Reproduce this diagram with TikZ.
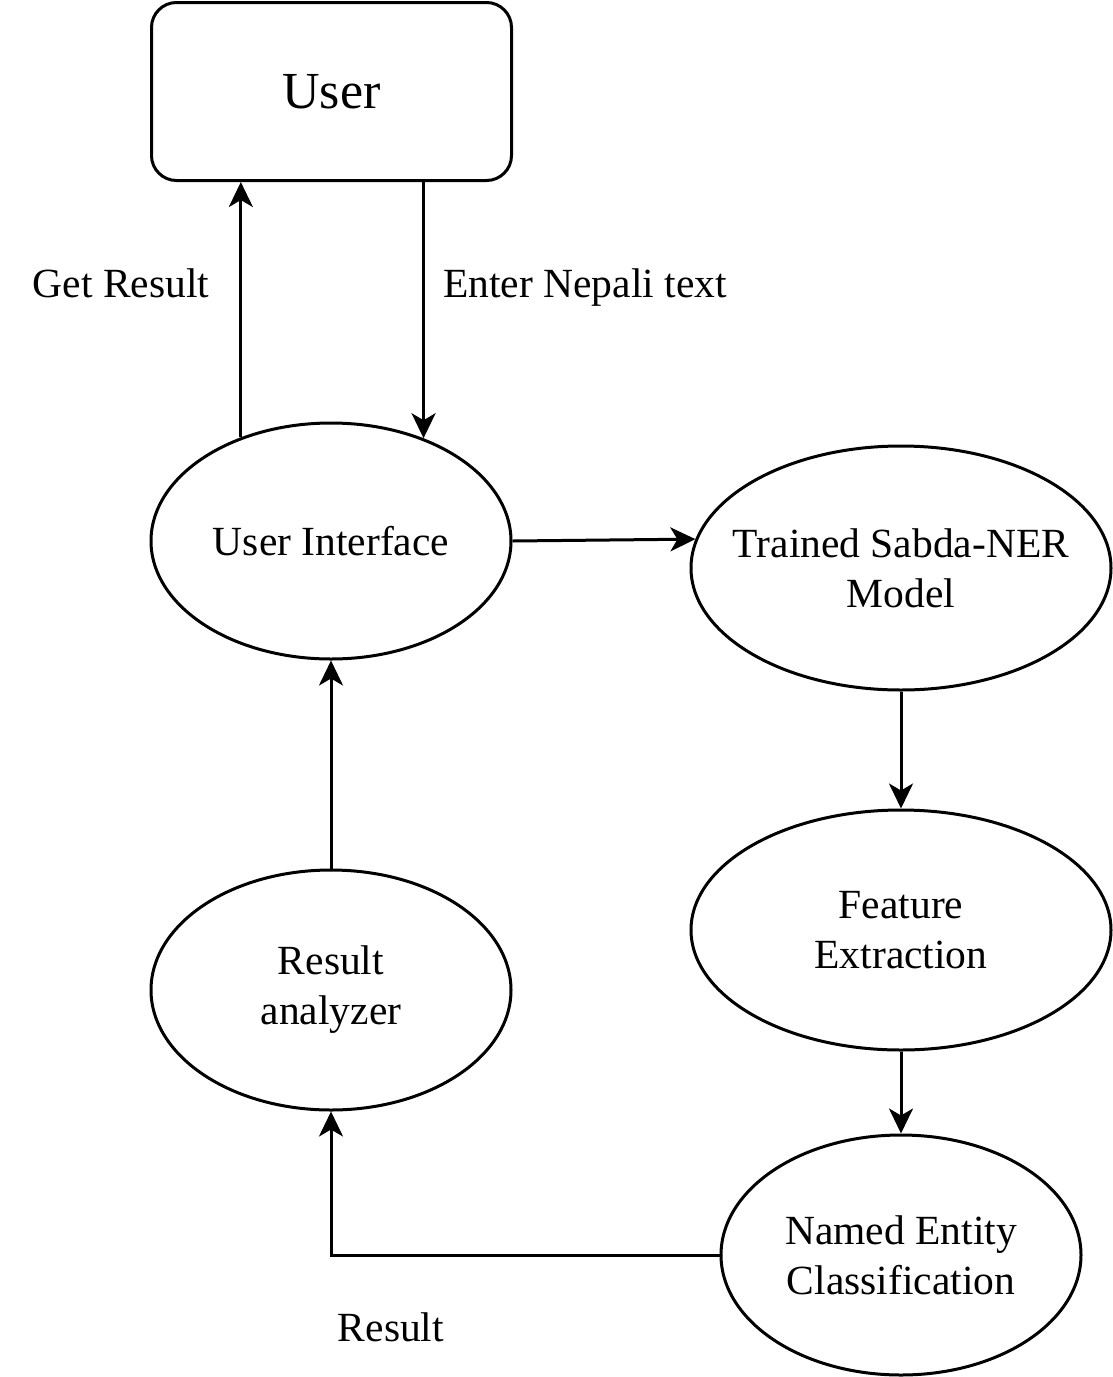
\documentclass[tikz,border=0pt]{standalone}
\usepackage{fontspec}
\setmainfont{Liberation Serif}
\usetikzlibrary{shapes.geometric,arrows.meta}
\begin{document}
\begin{tikzpicture}[x=1pt,y=-1pt,
 every node/.style={font=\fontsize{41.5}{50}\selectfont},
 ell/.style={draw, ellipse, line width=3pt, inner xsep=-45pt, inner ysep=0pt, align=center},
 conn/.style={line width=3pt, -{Stealth[length=25pt,width=24pt,inset=7pt]}},
 lbl/.style={inner sep=0pt}]
\useasboundingbox (0,0) rectangle (1113,1377);
\node[draw, rounded corners=25pt, line width=3pt, minimum width=360pt, minimum height=178pt, font=\fontsize{52}{60}\selectfont] (user) at (331.5,91.5) {User};
\node[ell, minimum width=360pt, minimum height=236pt] (ui) at (331,541) {User Interface};
\node[ell, minimum width=420pt, minimum height=244pt] (tr) at (901,568) {Trained Sabda-NER\\Model};
\node[ell, minimum width=420pt, minimum height=240pt] (fe) at (901,930) {Feature\\Extraction};
\node[ell, minimum width=360pt, minimum height=240pt] (ne) at (901,1255) {Named Entity\\Classification};
\node[ell, minimum width=360pt, minimum height=240pt] (ra) at (331,990) {Result\\analyzer};
\node[lbl, anchor=base] (gr) at (121,297) {Get Result};
\node[lbl, anchor=base west] (en) at (443,297) {Enter Nepali text};
\node[lbl, anchor=base] (res) at (391,1341) {Result};
\draw[conn] (ui.131.4) -- (user.south -| ui.131.4);
\draw[conn] (user.south -| ui.48.6) -- (ui.48.6);
\draw[conn] (ui.east) -- (tr.172.5);
\draw[conn] (tr.south) -- (fe.north);
\draw[conn] (fe.south) -- (ne.north);
\draw[conn] (ne.west) -| (ra.south);
\draw[conn] (ra.north) -- (ui.south);
\end{tikzpicture}
\end{document}
